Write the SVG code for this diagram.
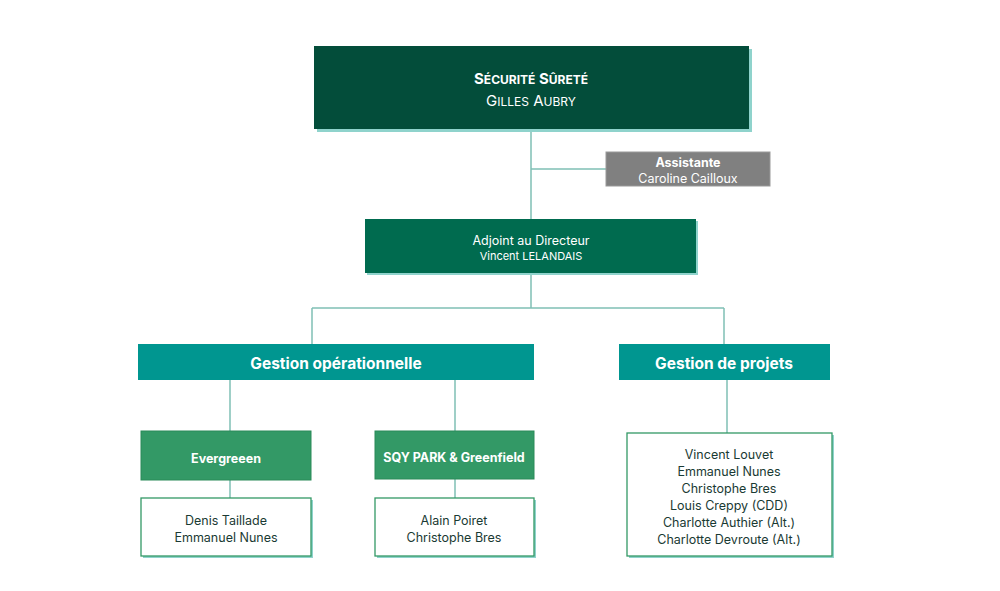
<svg xmlns="http://www.w3.org/2000/svg" width="1000" height="591" viewBox="0 0 1000 591">
<defs>
<style>
text{font-family:Inter,"Liberation Sans",sans-serif;text-anchor:middle}
.sh{fill:#8fd3cc}
.w{fill:#fff}
.b{font-weight:bold}
.c line{stroke:#7fbfb5;stroke-width:1.5}
.d{fill:#1a3a33;font-size:12.5px}
</style>
</defs>
<rect width="1000" height="591" fill="#fff"/>
<g class="c">
<line x1="531" y1="129" x2="531" y2="219"/>
<line x1="531" y1="169" x2="606" y2="169"/>
<line x1="531" y1="273" x2="531" y2="308"/>
<line x1="312" y1="308" x2="724" y2="308"/>
<line x1="312" y1="308" x2="312" y2="344"/>
<line x1="724" y1="308" x2="724" y2="344"/>
<line x1="230" y1="380" x2="230" y2="431"/>
<line x1="455" y1="380" x2="455" y2="431"/>
<line x1="230" y1="480" x2="230" y2="498"/>
<line x1="455" y1="479" x2="455" y2="498"/>
<line x1="727" y1="380" x2="727" y2="433"/>
</g>
<g id="top">
<rect class="sh" x="317" y="49" width="435" height="83"/>
<rect x="314" y="46" width="435" height="83" fill="#034d3a"/>
<text x="531" y="84" class="b w" font-size="15">S<tspan font-size="12">ÉCURITÉ</tspan> S<tspan font-size="12">ÛRETÉ</tspan></text>
<text x="531" y="106" class="w" font-size="15">G<tspan font-size="12">ILLES</tspan> A<tspan font-size="12">UBRY</tspan></text>
</g>
<g id="assistante">
<rect x="606" y="152" width="164" height="34" fill="#808080" stroke="#999" stroke-width="1"/>
<text x="688" y="167" class="b w" font-size="12.5">Assistante</text>
<text x="688" y="183" class="w" font-size="12.5">Caroline Cailloux</text>
</g>
<g id="adjoint">
<rect class="sh" x="367" y="221" width="331" height="54"/>
<rect x="365" y="219" width="331" height="54" fill="#006b4f"/>
<text x="531" y="245" class="w" font-size="12.5">Adjoint au Directeur</text>
<text x="531" y="260" class="w" font-size="11">Vincent LELANDAIS</text>
</g>
<g id="gestion-op">
<rect x="138" y="344" width="396" height="36" fill="#009690"/>
<text x="336" y="369" class="b w" font-size="15.5">Gestion opérationnelle</text>
</g>
<g id="gestion-projets">
<rect x="619" y="344" width="211" height="36" fill="#009690"/>
<text x="724" y="369" class="b w" font-size="15.5">Gestion de projets</text>
</g>
<g id="evergreen">
<rect x="141" y="431" width="170" height="49" fill="#339966" stroke="#2a8a58"/>
<text x="226" y="463" class="b w" font-size="12.5">Evergreeen</text>
</g>
<g id="sqy">
<rect x="375" y="431" width="159" height="48" fill="#339966" stroke="#2a8a58"/>
<text x="454" y="462" class="b w" font-size="12.5">SQY PARK &amp; Greenfield</text>
</g>
<g id="ever-team">
<rect class="sh" x="143" y="500" width="170" height="58"/>
<rect x="141" y="498" width="170" height="58" fill="#fff" stroke="#339966" stroke-width="1.3"/>
<text x="226" y="525" class="d">Denis Taillade</text>
<text x="226" y="542" class="d">Emmanuel Nunes</text>
</g>
<g id="sqy-team">
<rect class="sh" x="377" y="500" width="159" height="58"/>
<rect x="375" y="498" width="159" height="58" fill="#fff" stroke="#339966" stroke-width="1.3"/>
<text x="454" y="525" class="d">Alain Poiret</text>
<text x="454" y="542" class="d">Christophe Bres</text>
</g>
<g id="projets-team">
<rect class="sh" x="629" y="435" width="205" height="123"/>
<rect x="627" y="433" width="205" height="123" fill="#fff" stroke="#339966" stroke-width="1.3"/>
<text x="729" y="459" class="d">Vincent Louvet</text>
<text x="729" y="476" class="d">Emmanuel Nunes</text>
<text x="729" y="493" class="d">Christophe Bres</text>
<text x="729" y="510" class="d">Louis Creppy (CDD)</text>
<text x="729" y="527" class="d">Charlotte Authier (Alt.)</text>
<text x="729" y="544" class="d">Charlotte Devroute (Alt.)</text>
</g>
</svg>
